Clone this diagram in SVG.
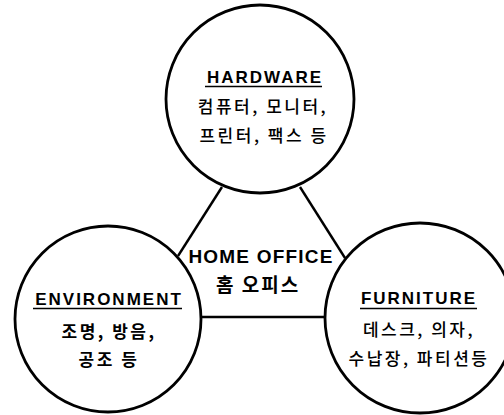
<svg xmlns="http://www.w3.org/2000/svg" width="504" height="415" viewBox="0 0 504 415">
<style>
.bg{fill:#ffffff}
.circ{fill:none;stroke:#000;stroke-width:2.8}
.conn{stroke:#000;stroke-width:2.4;fill:none}
.ul{stroke:#000;stroke-width:1.6}
.title{font-family:"Liberation Sans",Arial,sans-serif;font-weight:bold;font-size:17px;letter-spacing:2px;text-anchor:middle;fill:#000}
.ko{font-family:"Noto Sans CJK KR","Noto Sans",sans-serif;font-size:17px;letter-spacing:2.5px;text-anchor:middle;fill:#000;font-weight:500}
.kob{font-family:"Noto Sans CJK KR","Noto Sans",sans-serif;font-size:17px;letter-spacing:2.5px;text-anchor:middle;fill:#000;font-weight:bold}
.home{font-family:"Liberation Sans",Arial,sans-serif;font-weight:bold;font-size:19px;letter-spacing:1.2px;text-anchor:middle;fill:#000}
</style>
<rect class="bg" x="0" y="0" width="504" height="415"/>
<g id="connectors">
<line class="conn" x1="222" y1="187" x2="178" y2="256"/>
<line class="conn" x1="300" y1="187" x2="345" y2="258"/>
<line class="conn" x1="200" y1="317" x2="326" y2="317"/>
</g>
<g id="hardware">
<circle class="circ" cx="260" cy="99" r="94"/>
<text class="title" x="265" y="83">HARDWARE</text>
<line class="ul" x1="205" y1="86.5" x2="322" y2="86.5"/>
<text class="ko" x="263" y="113">컴퓨터, 모니터,</text>
<text class="ko" x="264" y="142">프린터, 팩스 등</text>
</g>
<g id="environment">
<circle class="circ" cx="108" cy="319" r="93"/>
<text class="title" x="109" y="305">ENVIRONMENT</text>
<line class="ul" x1="33" y1="308.5" x2="182" y2="308.5"/>
<text class="kob" x="109" y="338">조명, 방음,</text>
<text class="kob" x="109" y="366">공조 등</text>
</g>
<g id="furniture">
<circle class="circ" cx="420" cy="318" r="95"/>
<text class="title" x="419" y="304">FURNITURE</text>
<line class="ul" x1="360" y1="308.5" x2="477" y2="308.5"/>
<text class="ko" x="419" y="336">데스크, 의자,</text>
<text class="ko" x="419" y="365">수납장, 파티션등</text>
</g>
<g id="home-office">
<text class="home" x="261" y="263">HOME OFFICE</text>
<text class="kob" x="258" y="292" style="font-size:19px;letter-spacing:2px">홈 오피스</text>
</g>
</svg>
